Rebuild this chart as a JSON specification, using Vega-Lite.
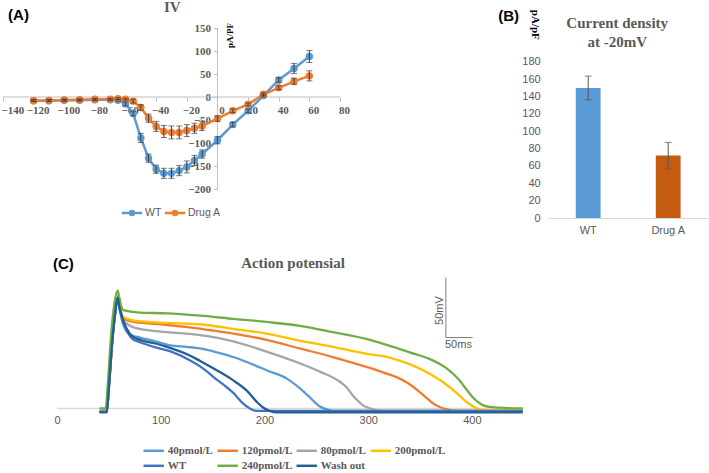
{
  "$schema": "https://vega.github.io/schema/vega-lite/v6.json",
  "autosize": {"type": "none"},
  "padding": {"left": 3, "top": 28, "right": 706, "bottom": 445},
  "background": "#ffffff",
  "columns": 2,
  "bounds": "flush",
  "spacing": {"row": 60.5, "column": 24.2},
  "resolve": {
    "scale": {"x": "independent", "y": "independent", "color": "independent", "fill": "independent"},
    "legend": {"color": "independent"}
  },
  "config": {"view": {"stroke": null}, "font": "Liberation Sans"},
  "concat": [
    {
      "width": 520.8,
      "height": 190,
      "title": {"text": "IV", "anchor": "start", "frame": "group", "dx": 161, "offset": -7, "font": "Liberation Serif", "fontSize": 15, "fontWeight": "bold", "color": "#595959"},
      "resolve": {"axis": {"x": "independent", "y": "independent"}},
      "data": {
        "values": [
          {"s": "WT", "v": -120, "i": -8, "e": 2},
          {"s": "WT", "v": -110, "i": -8, "e": 2},
          {"s": "WT", "v": -100, "i": -7, "e": 2},
          {"s": "WT", "v": -90, "i": -7, "e": 2},
          {"s": "WT", "v": -80, "i": -6, "e": 2},
          {"s": "WT", "v": -70, "i": -6, "e": 2},
          {"s": "WT", "v": -65, "i": -7, "e": 2},
          {"s": "WT", "v": -60, "i": -15, "e": 4},
          {"s": "WT", "v": -55, "i": -36, "e": 5},
          {"s": "WT", "v": -50, "i": -89, "e": 10},
          {"s": "WT", "v": -45, "i": -133, "e": 9},
          {"s": "WT", "v": -40, "i": -157, "e": 9},
          {"s": "WT", "v": -35, "i": -166, "e": 11},
          {"s": "WT", "v": -30, "i": -166, "e": 11},
          {"s": "WT", "v": -25, "i": -160, "e": 11},
          {"s": "WT", "v": -20, "i": -152, "e": 13},
          {"s": "WT", "v": -15, "i": -138, "e": 11},
          {"s": "WT", "v": -10, "i": -124, "e": 9},
          {"s": "WT", "v": 0, "i": -94, "e": 8},
          {"s": "WT", "v": 10, "i": -60, "e": 5},
          {"s": "WT", "v": 20, "i": -30, "e": 4},
          {"s": "WT", "v": 30, "i": 3, "e": 3},
          {"s": "WT", "v": 40, "i": 37, "e": 5},
          {"s": "WT", "v": 50, "i": 62, "e": 11},
          {"s": "WT", "v": 60, "i": 88, "e": 13},
          {"s": "Drug A", "v": -120, "i": -8, "e": 2},
          {"s": "Drug A", "v": -110, "i": -7.5, "e": 2},
          {"s": "Drug A", "v": -100, "i": -6.5, "e": 2},
          {"s": "Drug A", "v": -90, "i": -6, "e": 2},
          {"s": "Drug A", "v": -80, "i": -5, "e": 2},
          {"s": "Drug A", "v": -70, "i": -5, "e": 2},
          {"s": "Drug A", "v": -65, "i": -3.5, "e": 2},
          {"s": "Drug A", "v": -60, "i": -5, "e": 2},
          {"s": "Drug A", "v": -55, "i": -9, "e": 4},
          {"s": "Drug A", "v": -50, "i": -23, "e": 6},
          {"s": "Drug A", "v": -45, "i": -46, "e": 9},
          {"s": "Drug A", "v": -40, "i": -64, "e": 11},
          {"s": "Drug A", "v": -35, "i": -75, "e": 13},
          {"s": "Drug A", "v": -30, "i": -77, "e": 14},
          {"s": "Drug A", "v": -25, "i": -77, "e": 14},
          {"s": "Drug A", "v": -20, "i": -73, "e": 13},
          {"s": "Drug A", "v": -15, "i": -68, "e": 11},
          {"s": "Drug A", "v": -10, "i": -63, "e": 10},
          {"s": "Drug A", "v": 0, "i": -47, "e": 6},
          {"s": "Drug A", "v": 10, "i": -30, "e": 4},
          {"s": "Drug A", "v": 20, "i": -16, "e": 3},
          {"s": "Drug A", "v": 30, "i": 6, "e": 3},
          {"s": "Drug A", "v": 40, "i": 20, "e": 4},
          {"s": "Drug A", "v": 50, "i": 34, "e": 7},
          {"s": "Drug A", "v": 60, "i": 46, "e": 11}
        ]
      },
      "layer": [
        {
          "data": {"values": [{}]},
          "mark": {"type": "rule", "color": "#bfbfbf", "strokeWidth": 1},
          "encoding": {
            "x": {"datum": 0, "type": "quantitative", "axis": null},
            "y": {"datum": -200, "type": "quantitative", "axis": null},
            "y2": {"datum": 150}
          }
        },
        {
          "data": {"values": [{}]},
          "mark": {"type": "rule", "color": "#bfbfbf", "strokeWidth": 1},
          "encoding": {
            "x": {"datum": -140, "type": "quantitative", "axis": null},
            "x2": {"datum": 80},
            "y": {"datum": 0, "type": "quantitative", "axis": null}
          }
        },
        {
          "mark": {"type": "line", "strokeWidth": 2.5},
          "encoding": {
            "x": {
              "field": "v", "type": "quantitative",
              "scale": {"domain": [-140, 200], "nice": false, "zero": false},
              "axis": {
                "orient": "bottom",
                "values": [-140, -120, -100, -80, -60, -40, -20, 0, 20, 40, 60, 80],
                "offset": -121, "domain": false, "grid": false, "title": null,
                "tickSize": 4, "tickColor": "#bfbfbf",
                "labelPadding": 3, "labelOffset": 4, "labelOverlap": false,
                "labelFlush": true, "labelFlushOffset": 6,
                "labelFont": "Liberation Serif", "labelFontWeight": "bold", "labelFontSize": 11, "labelColor": "#595959"
              }
            },
            "y": {
              "field": "i", "type": "quantitative",
              "scale": {"domain": [-263.04, 150], "nice": false, "zero": false},
              "axis": {
                "orient": "left",
                "values": [-200, -150, -100, -50, 0, 50, 100, 150],
                "offset": -214.45, "domain": false, "grid": false,
                "tickSize": 4, "tickColor": "#bfbfbf",
                "labelPadding": 3, "labelOverlap": false,
                "labelFont": "Liberation Serif", "labelFontWeight": "bold", "labelFontSize": 11, "labelColor": "#595959",
                "title": "pA/PF", "titleFont": "Liberation Serif", "titleFontWeight": "bold", "titleFontSize": 9, "titleColor": "#000000",
                "titleAngle": 270, "titleX": 12.5, "titleY": 7, "titleAlign": "center", "titleBaseline": "middle"
              }
            },
            "color": {
              "field": "s", "type": "nominal",
              "scale": {"domain": ["WT", "Drug A"], "range": ["#5b9bd5", "#ed7d31"]},
              "legend": {
                "orient": "none", "legendX": 119, "legendY": 174.5, "direction": "horizontal",
                "title": null, "padding": 0, "columnPadding": -3, "labelOffset": 3,
                "symbolType": "M-1.2,0H1.2M0.24,0A0.24,0.24,0,1,1,-0.24,0A0.24,0.24,0,1,1,0.24,0",
                "symbolSize": 289, "symbolStrokeWidth": 2.5,
                "labelFont": "Liberation Sans", "labelFontSize": 10.5, "labelColor": "#595959"
              }
            }
          }
        },
        {
          "mark": {"type": "point", "filled": true, "size": 55, "opacity": 1},
          "encoding": {
            "x": {"field": "v", "type": "quantitative", "axis": null},
            "y": {"field": "i", "type": "quantitative", "axis": null},
            "fill": {
              "field": "s", "type": "nominal",
              "scale": {"domain": ["WT", "Drug A"], "range": ["#5b9bd5", "#ed7d31"]},
              "legend": null
            }
          }
        },
        {
          "mark": {"type": "errorbar", "color": "#404040", "thickness": 1, "ticks": {"size": 6, "thickness": 1, "color": "#404040"}},
          "encoding": {
            "x": {"field": "v", "type": "quantitative", "axis": null},
            "y": {"field": "i", "type": "quantitative", "axis": null},
            "yError": {"field": "e"}
          }
        },
        {
          "data": {"values": [{}]},
          "mark": {"type": "text", "text": "(A)", "align": "left", "baseline": "middle", "font": "Liberation Sans", "fontSize": 15, "fontWeight": "bold", "color": "#000000"},
          "encoding": {
            "x": {"datum": -136.7, "type": "quantitative", "axis": null},
            "y": {"datum": 178.3, "type": "quantitative", "axis": null}
          }
        }
      ]
    },
    {
      "width": 160,
      "height": 190,
      "title": {"text": ["Current density", "at -20mV"], "anchor": "middle", "frame": "group", "dx": -11, "offset": -41, "lineHeight": 19, "font": "Liberation Serif", "fontSize": 15, "fontWeight": "bold", "color": "#595959"},
      "resolve": {"axis": {"x": "independent", "y": "independent"}},
      "data": {
        "values": [
          {"g": "WT", "m": 150, "e": 13.7},
          {"g": "Drug A", "m": 72, "e": 15.2}
        ]
      },
      "layer": [
        {
          "mark": {"type": "bar"},
          "encoding": {
            "x": {
              "field": "g", "type": "nominal",
              "scale": {"domain": ["WT", "Drug A"], "paddingInner": 0.69, "paddingOuter": 0.345},
              "axis": {
                "orient": "bottom",
                "domain": true, "domainColor": "#d9d9d9", "domainWidth": 1, "ticks": false, "grid": false,
                "labelAngle": 0, "labelPadding": 6, "title": null,
                "labelFont": "Liberation Sans", "labelFontSize": 11, "labelColor": "#595959"
              }
            },
            "y": {
              "field": "m", "type": "quantitative",
              "scale": {"domain": [0, 219.2], "nice": false, "zero": true},
              "axis": {
                "orient": "left",
                "values": [0, 20, 40, 60, 80, 100, 120, 140, 160, 180],
                "domain": false, "ticks": false, "grid": false, "labelPadding": 8,
                "labelFont": "Liberation Sans", "labelFontSize": 11, "labelColor": "#595959",
                "title": "pA/pF", "titleFont": "Liberation Serif", "titleFontWeight": "bold", "titleFontSize": 11, "titleColor": "#000000",
                "titleAngle": 90, "titleX": -14, "titleY": -3.7, "titleAlign": "center", "titleBaseline": "middle"
              }
            },
            "color": {
              "field": "g", "type": "nominal",
              "scale": {"domain": ["WT", "Drug A"], "range": ["#5b9bd5", "#c55a11"]},
              "legend": null
            }
          }
        },
        {
          "mark": {"type": "errorbar", "color": "#555555", "thickness": 1, "ticks": {"size": 7, "thickness": 1, "color": "#555555"}},
          "encoding": {
            "x": {"field": "g", "type": "nominal", "axis": null},
            "y": {"field": "m", "type": "quantitative", "axis": null},
            "yError": {"field": "e"}
          }
        },
        {
          "data": {"values": [{}]},
          "mark": {"type": "text", "text": "(B)", "dx": -90, "align": "left", "baseline": "middle", "font": "Liberation Sans", "fontSize": 15, "fontWeight": "bold", "color": "#000000"},
          "encoding": {
            "x": {"datum": "WT", "type": "nominal", "axis": null},
            "y": {"datum": 233.1, "type": "quantitative", "axis": null}
          }
        }
      ]
    },
    {
      "width": 520.8,
      "height": 130,
      "title": {"text": "Action potensial", "anchor": "middle", "frame": "group", "dx": 29.6, "offset": -14, "font": "Liberation Serif", "fontSize": 15, "fontWeight": "bold", "color": "#595959"},
      "resolve": {"axis": {"x": "independent", "y": "independent"}},
      "data": {
        "values": [
          {"c": "40pmol/L", "t": 41, "mv": -85}, {"c": "40pmol/L", "t": 48, "mv": -85}, {"c": "40pmol/L", "t": 50, "mv": -55},
          {"c": "40pmol/L", "t": 53, "mv": 0}, {"c": "40pmol/L", "t": 56, "mv": 40}, {"c": "40pmol/L", "t": 58.5, "mv": 62},
          {"c": "40pmol/L", "t": 60, "mv": 50}, {"c": "40pmol/L", "t": 63, "mv": 30}, {"c": "40pmol/L", "t": 67, "mv": 18},
          {"c": "40pmol/L", "t": 72, "mv": 13}, {"c": "40pmol/L", "t": 80, "mv": 10}, {"c": "40pmol/L", "t": 95, "mv": 5},
          {"c": "40pmol/L", "t": 109, "mv": 0}, {"c": "40pmol/L", "t": 125, "mv": -2}, {"c": "40pmol/L", "t": 138, "mv": -4},
          {"c": "40pmol/L", "t": 154, "mv": -9}, {"c": "40pmol/L", "t": 170, "mv": -15}, {"c": "40pmol/L", "t": 186, "mv": -23},
          {"c": "40pmol/L", "t": 202, "mv": -32}, {"c": "40pmol/L", "t": 222, "mv": -43}, {"c": "40pmol/L", "t": 234, "mv": -55},
          {"c": "40pmol/L", "t": 244, "mv": -67}, {"c": "40pmol/L", "t": 253, "mv": -78}, {"c": "40pmol/L", "t": 260, "mv": -82},
          {"c": "40pmol/L", "t": 268, "mv": -84}, {"c": "40pmol/L", "t": 449, "mv": -84},

          {"c": "120pmol/L", "t": 41, "mv": -85}, {"c": "120pmol/L", "t": 48, "mv": -85}, {"c": "120pmol/L", "t": 50, "mv": -55},
          {"c": "120pmol/L", "t": 53, "mv": 0}, {"c": "120pmol/L", "t": 56, "mv": 42}, {"c": "120pmol/L", "t": 58.5, "mv": 65},
          {"c": "120pmol/L", "t": 60, "mv": 55}, {"c": "120pmol/L", "t": 63, "mv": 36}, {"c": "120pmol/L", "t": 68, "mv": 32},
          {"c": "120pmol/L", "t": 80, "mv": 29}, {"c": "120pmol/L", "t": 100, "mv": 27}, {"c": "120pmol/L", "t": 128, "mv": 23},
          {"c": "120pmol/L", "t": 150, "mv": 19}, {"c": "120pmol/L", "t": 170, "mv": 15}, {"c": "120pmol/L", "t": 202, "mv": 7},
          {"c": "120pmol/L", "t": 234, "mv": -4}, {"c": "120pmol/L", "t": 266, "mv": -15}, {"c": "120pmol/L", "t": 299, "mv": -28},
          {"c": "120pmol/L", "t": 315, "mv": -35}, {"c": "120pmol/L", "t": 331, "mv": -43}, {"c": "120pmol/L", "t": 340, "mv": -50},
          {"c": "120pmol/L", "t": 348, "mv": -58}, {"c": "120pmol/L", "t": 355, "mv": -66}, {"c": "120pmol/L", "t": 362, "mv": -74},
          {"c": "120pmol/L", "t": 369, "mv": -79}, {"c": "120pmol/L", "t": 376, "mv": -82}, {"c": "120pmol/L", "t": 385, "mv": -84},
          {"c": "120pmol/L", "t": 449, "mv": -84},

          {"c": "80pmol/L", "t": 41, "mv": -85}, {"c": "80pmol/L", "t": 48, "mv": -85}, {"c": "80pmol/L", "t": 50, "mv": -55},
          {"c": "80pmol/L", "t": 53, "mv": 0}, {"c": "80pmol/L", "t": 56, "mv": 41}, {"c": "80pmol/L", "t": 58.5, "mv": 63},
          {"c": "80pmol/L", "t": 60, "mv": 52}, {"c": "80pmol/L", "t": 63, "mv": 34}, {"c": "80pmol/L", "t": 67, "mv": 28},
          {"c": "80pmol/L", "t": 72, "mv": 24}, {"c": "80pmol/L", "t": 80, "mv": 21}, {"c": "80pmol/L", "t": 106, "mv": 17},
          {"c": "80pmol/L", "t": 138, "mv": 13}, {"c": "80pmol/L", "t": 170, "mv": 5}, {"c": "80pmol/L", "t": 202, "mv": -8},
          {"c": "80pmol/L", "t": 234, "mv": -23}, {"c": "80pmol/L", "t": 254, "mv": -34}, {"c": "80pmol/L", "t": 273, "mv": -47},
          {"c": "80pmol/L", "t": 280, "mv": -55}, {"c": "80pmol/L", "t": 285, "mv": -64}, {"c": "80pmol/L", "t": 290, "mv": -71},
          {"c": "80pmol/L", "t": 295, "mv": -77}, {"c": "80pmol/L", "t": 300, "mv": -80}, {"c": "80pmol/L", "t": 305, "mv": -82},
          {"c": "80pmol/L", "t": 312, "mv": -84}, {"c": "80pmol/L", "t": 449, "mv": -84},

          {"c": "200pmol/L", "t": 41, "mv": -85}, {"c": "200pmol/L", "t": 48, "mv": -85}, {"c": "200pmol/L", "t": 50, "mv": -55},
          {"c": "200pmol/L", "t": 53, "mv": 0}, {"c": "200pmol/L", "t": 56, "mv": 43}, {"c": "200pmol/L", "t": 58.5, "mv": 66},
          {"c": "200pmol/L", "t": 60, "mv": 55}, {"c": "200pmol/L", "t": 63, "mv": 38}, {"c": "200pmol/L", "t": 70, "mv": 33},
          {"c": "200pmol/L", "t": 80, "mv": 31}, {"c": "200pmol/L", "t": 100, "mv": 29}, {"c": "200pmol/L", "t": 138, "mv": 27},
          {"c": "200pmol/L", "t": 170, "mv": 21}, {"c": "200pmol/L", "t": 202, "mv": 15}, {"c": "200pmol/L", "t": 234, "mv": 6},
          {"c": "200pmol/L", "t": 266, "mv": -2}, {"c": "200pmol/L", "t": 299, "mv": -11}, {"c": "200pmol/L", "t": 315, "mv": -14},
          {"c": "200pmol/L", "t": 331, "mv": -20}, {"c": "200pmol/L", "t": 345, "mv": -27}, {"c": "200pmol/L", "t": 360, "mv": -37},
          {"c": "200pmol/L", "t": 373, "mv": -48}, {"c": "200pmol/L", "t": 386, "mv": -62}, {"c": "200pmol/L", "t": 395, "mv": -73},
          {"c": "200pmol/L", "t": 401, "mv": -78}, {"c": "200pmol/L", "t": 405, "mv": -81}, {"c": "200pmol/L", "t": 414, "mv": -83},
          {"c": "200pmol/L", "t": 449, "mv": -83},

          {"c": "WT", "t": 41, "mv": -85}, {"c": "WT", "t": 48, "mv": -85}, {"c": "WT", "t": 50, "mv": -55},
          {"c": "WT", "t": 53, "mv": 0}, {"c": "WT", "t": 56, "mv": 40}, {"c": "WT", "t": 58.5, "mv": 61},
          {"c": "WT", "t": 60, "mv": 50}, {"c": "WT", "t": 63, "mv": 35}, {"c": "WT", "t": 67, "mv": 20},
          {"c": "WT", "t": 73, "mv": 8}, {"c": "WT", "t": 80, "mv": 4}, {"c": "WT", "t": 96, "mv": -3},
          {"c": "WT", "t": 112, "mv": -9}, {"c": "WT", "t": 128, "mv": -19}, {"c": "WT", "t": 138, "mv": -27},
          {"c": "WT", "t": 145, "mv": -34}, {"c": "WT", "t": 154, "mv": -44}, {"c": "WT", "t": 162, "mv": -52},
          {"c": "WT", "t": 170, "mv": -61}, {"c": "WT", "t": 179, "mv": -74}, {"c": "WT", "t": 186, "mv": -81},
          {"c": "WT", "t": 192, "mv": -84}, {"c": "WT", "t": 449, "mv": -84},

          {"c": "240pmol/L", "t": 41, "mv": -81}, {"c": "240pmol/L", "t": 47, "mv": -81}, {"c": "240pmol/L", "t": 49, "mv": -50},
          {"c": "240pmol/L", "t": 52, "mv": 10}, {"c": "240pmol/L", "t": 55, "mv": 50}, {"c": "240pmol/L", "t": 58.5, "mv": 70},
          {"c": "240pmol/L", "t": 60, "mv": 62}, {"c": "240pmol/L", "t": 62, "mv": 50}, {"c": "240pmol/L", "t": 64, "mv": 45},
          {"c": "240pmol/L", "t": 80, "mv": 42}, {"c": "240pmol/L", "t": 106, "mv": 41}, {"c": "240pmol/L", "t": 138, "mv": 38},
          {"c": "240pmol/L", "t": 170, "mv": 34}, {"c": "240pmol/L", "t": 202, "mv": 30}, {"c": "240pmol/L", "t": 234, "mv": 25},
          {"c": "240pmol/L", "t": 266, "mv": 17}, {"c": "240pmol/L", "t": 299, "mv": 8}, {"c": "240pmol/L", "t": 324, "mv": -2},
          {"c": "240pmol/L", "t": 340, "mv": -9}, {"c": "240pmol/L", "t": 360, "mv": -18}, {"c": "240pmol/L", "t": 375, "mv": -29},
          {"c": "240pmol/L", "t": 386, "mv": -42}, {"c": "240pmol/L", "t": 395, "mv": -57}, {"c": "240pmol/L", "t": 401, "mv": -67},
          {"c": "240pmol/L", "t": 405, "mv": -72}, {"c": "240pmol/L", "t": 411, "mv": -77}, {"c": "240pmol/L", "t": 417, "mv": -79},
          {"c": "240pmol/L", "t": 427, "mv": -80}, {"c": "240pmol/L", "t": 449, "mv": -81},

          {"c": "Wash out", "t": 41, "mv": -86}, {"c": "Wash out", "t": 48, "mv": -86}, {"c": "Wash out", "t": 50, "mv": -55},
          {"c": "Wash out", "t": 53, "mv": 0}, {"c": "Wash out", "t": 56, "mv": 40}, {"c": "Wash out", "t": 58.5, "mv": 61},
          {"c": "Wash out", "t": 60, "mv": 50}, {"c": "Wash out", "t": 63, "mv": 35}, {"c": "Wash out", "t": 67, "mv": 22},
          {"c": "Wash out", "t": 73, "mv": 11}, {"c": "Wash out", "t": 80, "mv": 7}, {"c": "Wash out", "t": 96, "mv": 2},
          {"c": "Wash out", "t": 106, "mv": -2}, {"c": "Wash out", "t": 128, "mv": -13}, {"c": "Wash out", "t": 138, "mv": -20},
          {"c": "Wash out", "t": 154, "mv": -32}, {"c": "Wash out", "t": 170, "mv": -45}, {"c": "Wash out", "t": 183, "mv": -58},
          {"c": "Wash out", "t": 193, "mv": -73}, {"c": "Wash out", "t": 199, "mv": -80}, {"c": "Wash out", "t": 205, "mv": -84},
          {"c": "Wash out", "t": 212, "mv": -86}, {"c": "Wash out", "t": 449, "mv": -86}
        ]
      },
      "layer": [
        {
          "data": {"values": [{}]},
          "mark": {"type": "rule", "color": "#d9d9d9", "strokeWidth": 1.5},
          "encoding": {
            "x": {"datum": 0, "type": "quantitative", "axis": null},
            "x2": {"datum": 450},
            "y": {"datum": -81, "type": "quantitative", "axis": null}
          }
        },
        {
          "mark": {"type": "line", "strokeWidth": 2.3, "interpolate": "monotone"},
          "encoding": {
            "x": {
              "field": "t", "type": "quantitative",
              "scale": {"domain": [-52, 450], "nice": false, "zero": false},
              "axis": {
                "orient": "bottom",
                "values": [0, 100, 200, 300, 400], "domain": false, "ticks": false, "grid": false, "title": null,
                "labelPadding": 6, "labelFont": "Liberation Sans", "labelFontSize": 11, "labelColor": "#595959"
              }
            },
            "y": {
              "field": "mv", "type": "quantitative",
              "scale": {"domain": [-81, 85.67], "nice": false, "zero": false},
              "axis": null
            },
            "color": {
              "field": "c", "type": "nominal",
              "scale": {
                "domain": ["40pmol/L", "120pmol/L", "80pmol/L", "200pmol/L", "WT", "240pmol/L", "Wash out"],
                "range": ["#5b9bd5", "#ed7d31", "#a5a5a5", "#ffc000", "#4472c4", "#70ad47", "#255e91"]
              },
              "legend": {
                "orient": "none", "legendX": 140.7, "legendY": 162.3, "direction": "horizontal", "columns": 4,
                "title": null, "padding": 0, "columnPadding": -2, "rowPadding": 0, "labelOffset": 4,
                "symbolType": "M-1.2,0H1.2", "symbolSize": 289, "symbolStrokeWidth": 2.5,
                "labelFont": "Liberation Serif", "labelFontWeight": "bold", "labelFontSize": 11, "labelColor": "#595959"
              }
            }
          }
        },
        {
          "data": {"values": [{}]},
          "mark": {"type": "rule", "color": "#808080", "strokeWidth": 1},
          "encoding": {
            "x": {"datum": 374.9, "type": "quantitative", "axis": null},
            "y": {"datum": 10, "type": "quantitative", "axis": null},
            "y2": {"datum": 87}
          }
        },
        {
          "data": {"values": [{}]},
          "mark": {"type": "rule", "color": "#808080", "strokeWidth": 1},
          "encoding": {
            "x": {"datum": 374.9, "type": "quantitative", "axis": null},
            "x2": {"datum": 400.7},
            "y": {"datum": 10, "type": "quantitative", "axis": null}
          }
        },
        {
          "data": {"values": [{}]},
          "mark": {"type": "text", "text": "50mV", "angle": 270, "align": "center", "baseline": "middle", "font": "Liberation Sans", "fontSize": 11, "color": "#595959"},
          "encoding": {
            "x": {"datum": 369.2, "type": "quantitative", "axis": null},
            "y": {"datum": 44.6, "type": "quantitative", "axis": null}
          }
        },
        {
          "data": {"values": [{}]},
          "mark": {"type": "text", "text": "50ms", "align": "center", "baseline": "middle", "font": "Liberation Sans", "fontSize": 11, "color": "#595959"},
          "encoding": {
            "x": {"datum": 387, "type": "quantitative", "axis": null},
            "y": {"datum": 1, "type": "quantitative", "axis": null}
          }
        },
        {
          "data": {"values": [{}]},
          "mark": {"type": "text", "text": "(C)", "align": "left", "baseline": "middle", "font": "Liberation Sans", "fontSize": 15, "fontWeight": "bold", "color": "#000000"},
          "encoding": {
            "x": {"datum": -3.9, "type": "quantitative", "axis": null},
            "y": {"datum": 104.9, "type": "quantitative", "axis": null}
          }
        }
      ]
    }
  ]
}
